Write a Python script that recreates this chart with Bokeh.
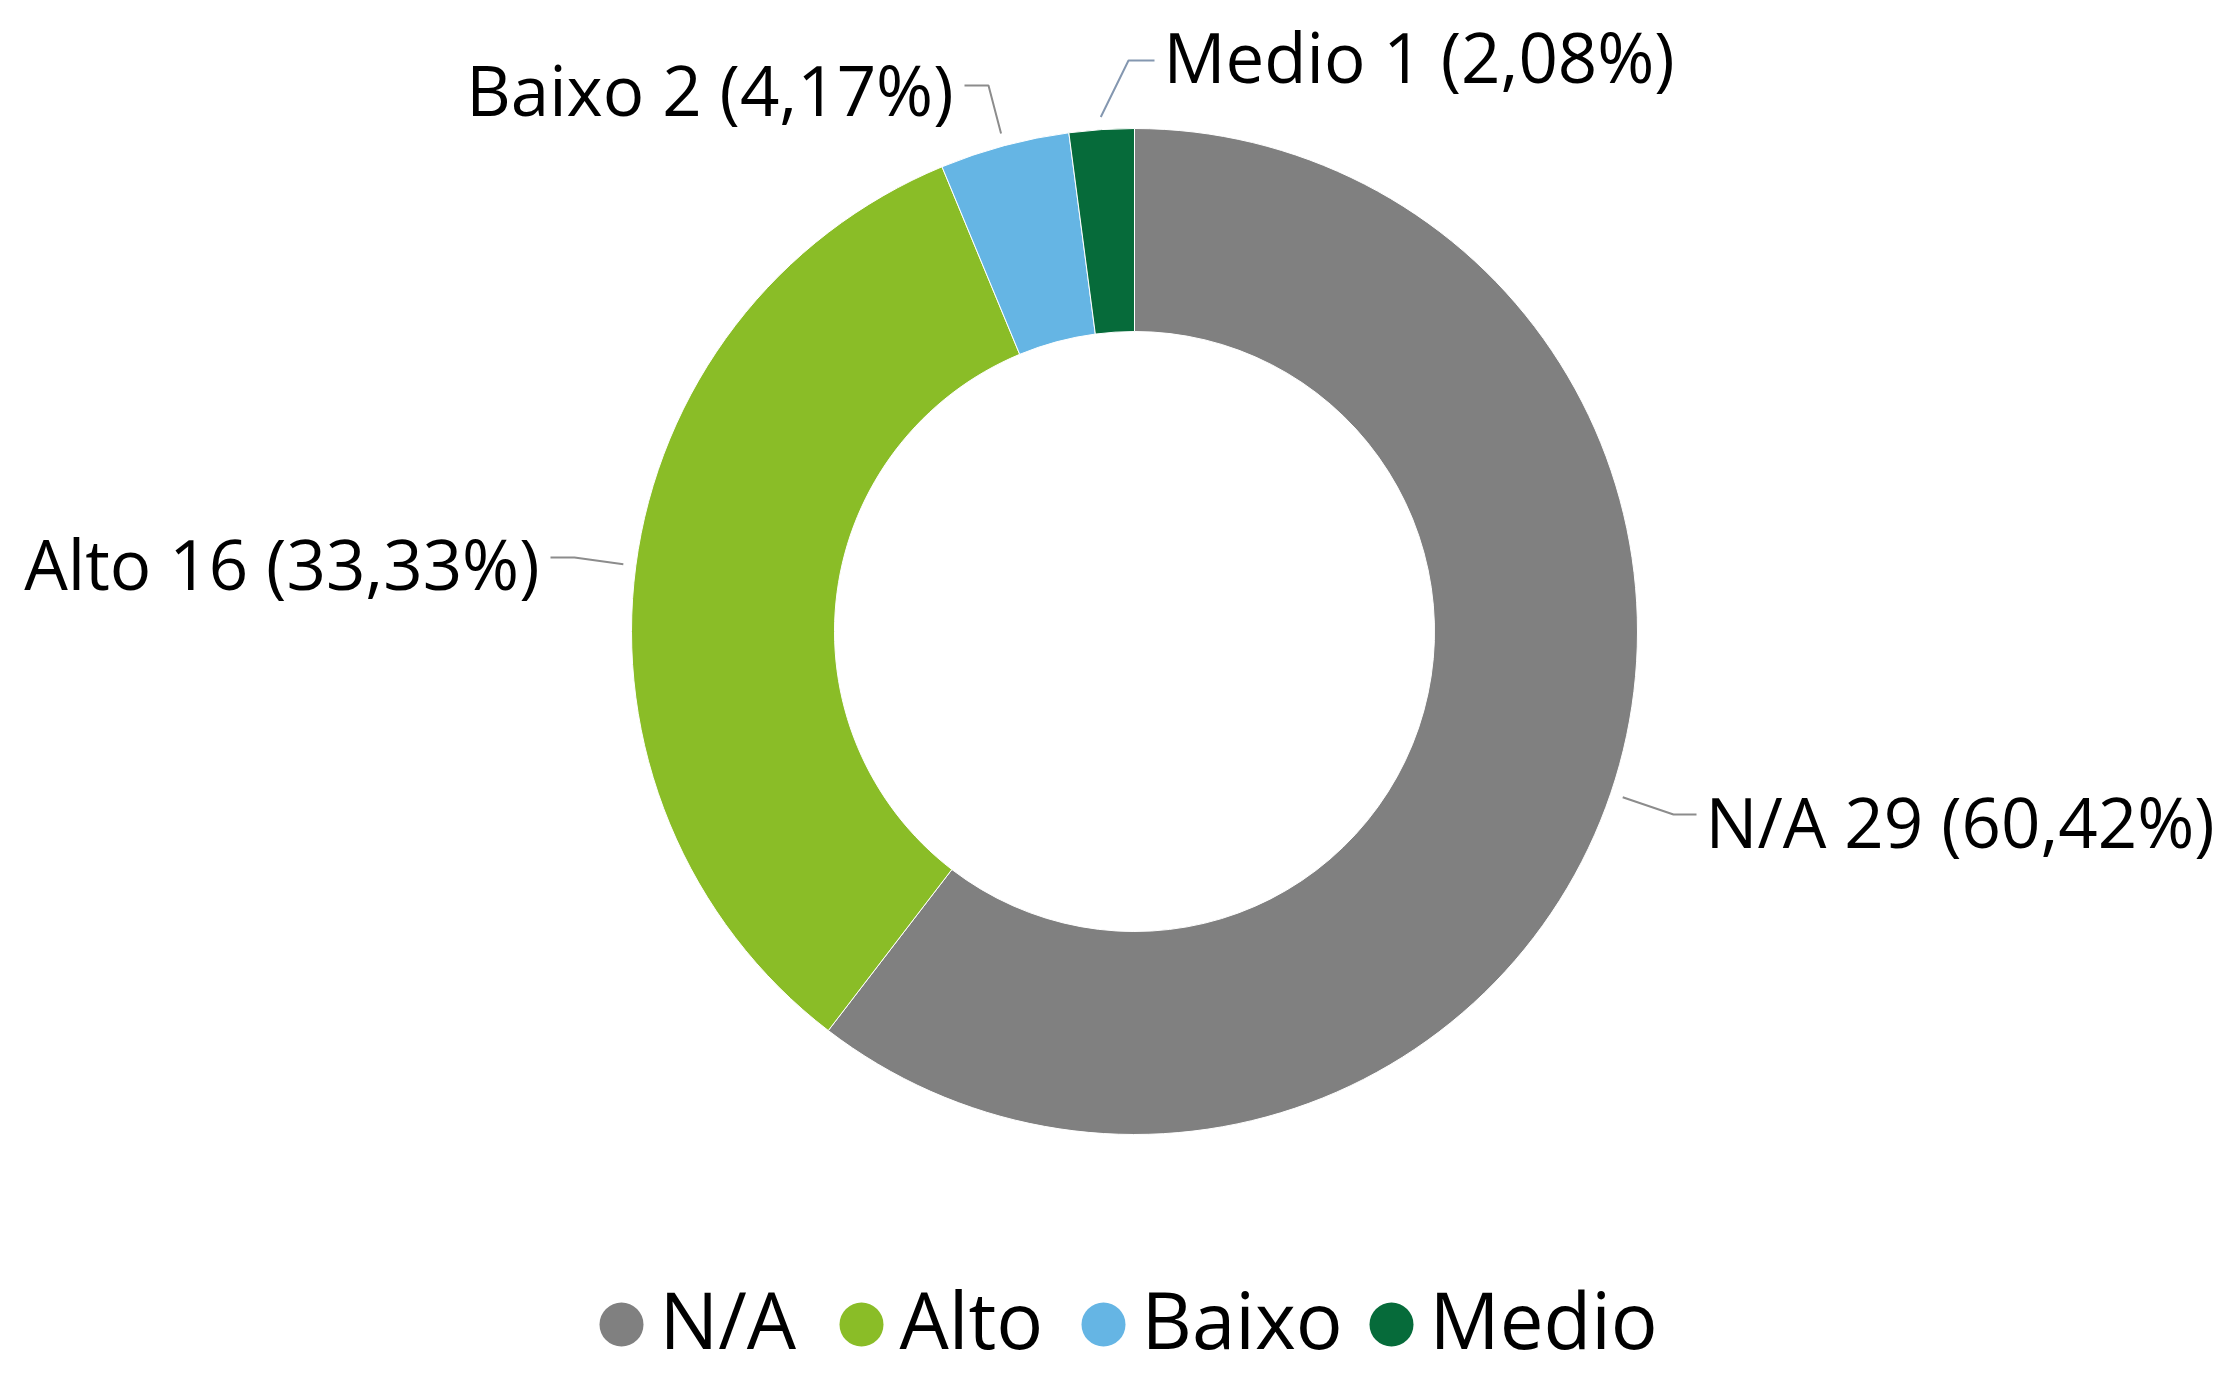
import math
from bokeh.plotting import figure
from bokeh.models import Range1d, ColumnDataSource
from bokeh.core.properties import value
from bokeh.embed import file_html
from bokeh.resources import INLINE

# ---- data ----
categories = ["N/A", "Alto", "Baixo", "Medio"]
counts = [29, 16, 2, 1]
colors = ["#808080", "#8ABD27", "#65B5E4", "#066B3A"]

W, H = 2223, 1375
FONT = "Open Sans"

# ---- layout ----
cx, cy = 1134, 631
r_out, r_in = 503, 300
label_pos = [(1705, 820, "left"), (539, 562, "right"), (953, 88, "right"), (1163, 55, "left")]
elbow_pts = [(1673, 814), (574, 557), (988, 85), (1128, 60)]
leader_colors = ["#8C8C8C", "#8C8C8C", "#8C8C8C", "#8497B0"]
legend_x = [621, 861, 1103, 1391]
legend_y = 1318


def Y(py):
    return H - py


p = figure(width=W, height=H, output_backend="svg", toolbar_location=None,
           x_range=Range1d(0, W), y_range=Range1d(0, H), min_border=0)
p.axis.visible = False
p.grid.visible = False
p.outline_line_color = None
p.background_fill_color = "white"

total = sum(counts)
starts, ends, mids = [], [], []
acc = 0
for c in counts:
    a0 = math.pi / 2 - 2 * math.pi * acc / total
    a1 = math.pi / 2 - 2 * math.pi * (acc + c) / total
    starts.append(a0)
    ends.append(a1)
    mids.append((a0 + a1) / 2)
    acc += c

src = ColumnDataSource(dict(x=[cx] * len(counts), y=[Y(cy)] * len(counts),
                            start=starts, end=ends, color=colors))
p.annular_wedge(x="x", y="y", inner_radius=r_in, outer_radius=r_out,
                start_angle="start", end_angle="end", direction="clock",
                fill_color="color", line_color="white", line_width=1, source=src)

labels = []
for cat, c in zip(categories, counts):
    pct = f"{100 * c / total:.2f}".replace(".", ",")
    labels.append(f"{cat} {c} ({pct}%)")

for i in range(len(counts)):
    lx, ly, align = label_pos[i]
    ax = cx + r_out * 1.025 * math.cos(mids[i])
    ay = Y(cy) + r_out * 1.025 * math.sin(mids[i])
    bx, by = elbow_pts[i]
    ex = lx - 9 if align == "left" else lx + 11
    p.line([ax, bx, ex], [ay, Y(by), Y(by)], line_color=leader_colors[i], line_width=2)
    p.text(x=[lx], y=[Y(ly)], text=[labels[i]], text_font=value(FONT), text_font_size="69px",
           text_align=align, text_baseline="middle", text_color="#000000")

# legend
p.scatter(x=legend_x, y=[Y(legend_y + 6)] * 4, size=44, marker="circle", fill_color=colors, line_color=None)
p.text(x=[x + 38 for x in legend_x], y=[Y(legend_y)] * 4, text=categories, text_font=value(FONT),
       text_font_size="78px", text_align="left", text_baseline="middle", text_color="#000000")

open("out.html", "w").write(file_html(p, INLINE))
